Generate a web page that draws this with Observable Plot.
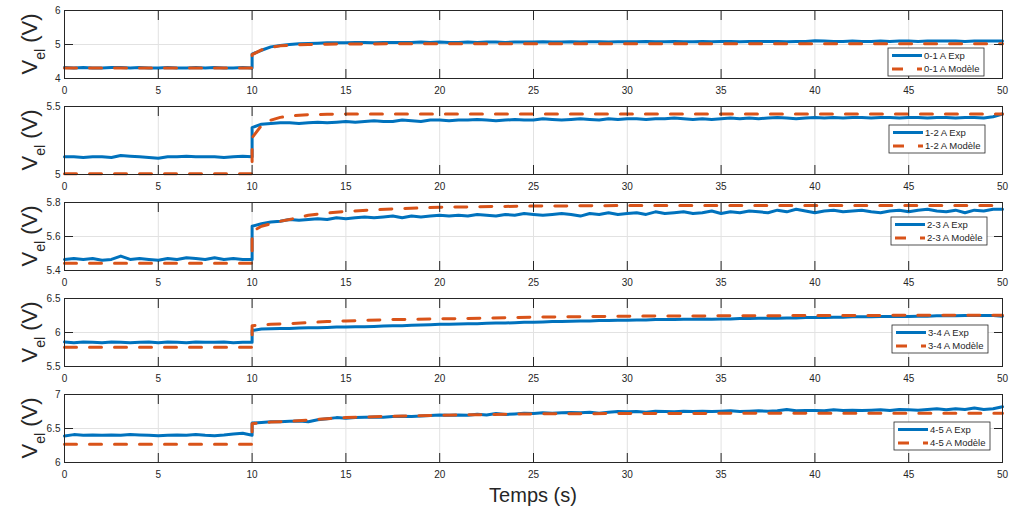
<!DOCTYPE html>
<html><head><meta charset="utf-8">
<script src="https://cdn.jsdelivr.net/npm/d3@7"></script>
<script src="https://cdn.jsdelivr.net/npm/@observablehq/plot@0.6"></script>
<style>
body{margin:0;background:#fff}
#chart{position:relative;width:1009px;height:514px;font-family:"Liberation Sans",Arial,Helvetica,sans-serif}
#chart svg{position:absolute;left:0;overflow:visible}
</style></head><body><div id="chart"></div>
<script>
// ---------- data ----------
const seriesNames = ["0-1", "1-2", "2-3", "3-4", "4-5"];
const xTicks = [0, 5, 10, 15, 20, 25, 30, 35, 40, 45, 50];
const yDomains = [[4, 6], [5, 5.5], [5.4, 5.8], [5.5, 6.5], [6, 7]];
const yTicks = [[4, 5, 6], [5, 5.5], [5.4, 5.6, 5.8], [5.5, 6, 6.5], [6, 6.5, 7]];
const sampleStep = 0.5;     // s, experimental sampling used here
const stepTime = 10;        // s

// experimental: t = 0..10 (before step), t = 10..50 (after step)
const exp01Before = [4.32,4.31,4.32,4.31,4.31,4.32,4.32,4.31,4.32,4.31,4.31,4.32,4.31,4.31,4.32,4.31,4.32,4.31,4.31,4.32,4.31];
const exp01After = [
 4.72,4.83,4.93,4.97,5.00,5.02,5.03,5.04,5.05,5.05,
 5.05,5.06,5.06,5.05,5.06,5.06,5.06,5.06,5.07,5.06,
 5.07,5.06,5.06,5.07,5.06,5.07,5.07,5.06,5.07,5.07,
 5.07,5.08,5.07,5.07,5.08,5.07,5.08,5.08,5.07,5.08,
 5.08,5.08,5.09,5.08,5.08,5.09,5.08,5.08,5.09,5.08,
 5.09,5.09,5.08,5.09,5.09,5.09,5.09,5.08,5.09,5.09,
 5.11,5.10,5.09,5.09,5.10,5.09,5.09,5.10,5.09,5.10,
 5.10,5.09,5.10,5.10,5.10,5.10,5.09,5.10,5.10,5.10,
 5.10];
const exp12Before = [5.13,5.13,5.125,5.13,5.13,5.125,5.14,5.135,5.13,5.125,5.12,5.13,5.13,5.135,5.13,5.13,5.13,5.125,5.13,5.135,5.13];
const exp12After = [
 5.345,5.37,5.375,5.38,5.38,5.375,5.38,5.385,5.38,5.385,
 5.39,5.385,5.39,5.395,5.39,5.39,5.40,5.395,5.39,5.40,
 5.40,5.395,5.40,5.40,5.405,5.40,5.395,5.40,5.405,5.40,
 5.40,5.41,5.405,5.40,5.405,5.41,5.405,5.40,5.41,5.405,
 5.41,5.41,5.405,5.41,5.41,5.415,5.41,5.405,5.41,5.405,
 5.41,5.415,5.41,5.415,5.41,5.415,5.42,5.415,5.41,5.415,
 5.42,5.415,5.42,5.415,5.42,5.42,5.415,5.42,5.42,5.415,
 5.42,5.42,5.415,5.42,5.42,5.415,5.42,5.42,5.415,5.425,
 5.445];
const exp23Before = [5.465,5.47,5.465,5.47,5.46,5.465,5.485,5.465,5.47,5.465,5.46,5.47,5.465,5.475,5.47,5.465,5.475,5.465,5.47,5.465,5.465];
const exp23After = [
 5.66,5.675,5.685,5.69,5.70,5.695,5.70,5.705,5.70,5.71,
 5.705,5.71,5.715,5.71,5.715,5.72,5.71,5.72,5.715,5.72,
 5.725,5.72,5.725,5.72,5.73,5.725,5.72,5.73,5.725,5.735,
 5.73,5.725,5.73,5.735,5.73,5.72,5.735,5.73,5.74,5.73,
 5.735,5.74,5.73,5.745,5.735,5.74,5.745,5.735,5.74,5.75,
 5.735,5.745,5.74,5.75,5.745,5.74,5.755,5.745,5.76,5.75,
 5.74,5.75,5.755,5.745,5.75,5.755,5.745,5.74,5.75,5.755,
 5.745,5.755,5.76,5.75,5.745,5.755,5.74,5.755,5.75,5.76,
 5.76];
const exp34Before = [5.86,5.85,5.86,5.855,5.85,5.86,5.855,5.85,5.855,5.86,5.85,5.86,5.855,5.85,5.86,5.855,5.855,5.86,5.85,5.855,5.855];
const exp34After = [
 6.03,6.05,6.055,6.06,6.06,6.065,6.07,6.07,6.075,6.08,
 6.08,6.085,6.085,6.09,6.095,6.10,6.10,6.105,6.11,6.115,
 6.12,6.12,6.125,6.13,6.13,6.135,6.14,6.14,6.145,6.15,
 6.15,6.155,6.16,6.16,6.165,6.17,6.17,6.175,6.175,6.18,
 6.18,6.185,6.185,6.19,6.19,6.19,6.195,6.195,6.20,6.195,
 6.20,6.20,6.205,6.205,6.21,6.21,6.21,6.215,6.215,6.22,
 6.22,6.22,6.225,6.225,6.23,6.23,6.23,6.235,6.235,6.24,
 6.235,6.24,6.24,6.245,6.245,6.245,6.25,6.25,6.25,6.25,
 6.24];
const exp45Before = [6.39,6.41,6.40,6.405,6.40,6.405,6.40,6.41,6.405,6.40,6.395,6.40,6.405,6.40,6.41,6.40,6.395,6.405,6.42,6.43,6.40];
const exp45After = [
 6.58,6.59,6.60,6.60,6.605,6.61,6.60,6.63,6.645,6.66,
 6.65,6.66,6.665,6.67,6.665,6.675,6.68,6.675,6.685,6.69,
 6.70,6.695,6.70,6.695,6.71,6.70,6.72,6.705,6.715,6.725,
 6.72,6.73,6.725,6.73,6.735,6.73,6.74,6.725,6.74,6.75,
 6.745,6.75,6.74,6.755,6.75,6.745,6.755,6.75,6.755,6.75,
 6.755,6.76,6.75,6.755,6.76,6.755,6.76,6.78,6.76,6.765,
 6.765,6.76,6.775,6.765,6.77,6.765,6.77,6.775,6.765,6.78,
 6.775,6.77,6.78,6.79,6.775,6.79,6.78,6.80,6.78,6.79,
 6.82];

// model
const modelTimes = [0, 10, 10, 10.5, 11, 11.5, 12, 13, 14, 15, 17.5, 20, 25, 30, 40, 50];
const model01 = [4.31,4.31,4.70,4.84,4.92,4.96,4.98,5.00,5.01,5.015,5.02,5.02,5.02,5.02,5.02,5.02];
const model12 = [5.005,5.005,5.27,5.36,5.40,5.42,5.43,5.44,5.443,5.445,5.445,5.445,5.445,5.445,5.445,5.445];
const model23 = [5.443,5.443,5.63,5.66,5.675,5.69,5.70,5.725,5.738,5.748,5.762,5.772,5.779,5.782,5.782,5.782];
const model34 = [5.784,5.784,6.10,6.11,6.12,6.125,6.13,6.145,6.16,6.17,6.19,6.20,6.225,6.24,6.25,6.255];
const model45 = [6.27,6.27,6.57,6.585,6.595,6.60,6.605,6.625,6.645,6.66,6.68,6.695,6.715,6.72,6.725,6.725];

const expBefore = [exp01Before, exp12Before, exp23Before, exp34Before, exp45Before];
const expAfter = [exp01After, exp12After, exp23After, exp34After, exp45After];
const models = [model01, model12, model23, model34, model45];

// ---------- layout ----------
const W = 1009, panelH = 96, mTop = 10, innerH = 68, tickLen = 9;
const legendBoxes = [[888, 38], [889, 19], [891, 15], [892, 27], [894, 28]]; // x, y offset from axes top
const font = '"Liberation Sans", Arial, Helvetica, sans-serif';
const ink = "#262626", blue = "#0072BD", orange = "#D95319", gridC = "#e2e2e2";

const chart = d3.select("#chart");

seriesNames.forEach((name, k) => {
  const last = k === seriesNames.length - 1;
  const H = last ? 514 - panelH * k : panelH;
  const exp = [
    ...expBefore[k].map((v, i) => ({t: i * sampleStep, v})),
    ...expAfter[k].map((v, i) => ({t: stepTime + i * sampleStep, v}))
  ];
  const model = models[k].map((v, i) => ({t: modelTimes[i], v}));
  const fmt = d => String(d);
  const none = () => "";
  const svg = Plot.plot({
    width: W, height: H,
    marginLeft: 64, marginRight: 7, marginTop: mTop, marginBottom: H - mTop - innerH,
    style: {fontFamily: font, fontSize: "10px", color: ink, background: "transparent"},
    x: {domain: [0, 50]},
    y: {domain: yDomains[k]},
    marks: [
      Plot.gridX(xTicks, {stroke: gridC, strokeOpacity: 1}),
      Plot.gridY(yTicks[k], {stroke: gridC, strokeOpacity: 1}),
      Plot.line(exp, {x: "t", y: "v", stroke: blue, strokeWidth: 3, strokeLinejoin: "round"}),
      Plot.line(model, {x: "t", y: "v", stroke: orange, strokeWidth: 3, strokeDasharray: "12,13"}),
      Plot.frame({stroke: ink, strokeWidth: 1}),
      Plot.axisX(xTicks, {anchor: "bottom", tickSize: 0, tickPadding: 8, label: null, tickFormat: fmt}),
      Plot.axisY(yTicks[k], {anchor: "left", tickSize: 0, tickPadding: 4, label: null, tickFormat: fmt}),
      // inward tick marks on all four sides
      Plot.axisX(xTicks, {anchor: "bottom", tickSize: tickLen, dy: -tickLen, tickFormat: none, label: null, stroke: ink}),
      Plot.axisX(xTicks, {anchor: "top", tickSize: tickLen, dy: tickLen, tickFormat: none, label: null, stroke: ink}),
      Plot.axisY(yTicks[k], {anchor: "left", tickSize: tickLen, dx: tickLen, tickFormat: none, label: null, stroke: ink}),
      Plot.axisY(yTicks[k], {anchor: "right", tickSize: tickLen, dx: -tickLen, tickFormat: none, label: null, stroke: ink})
    ]
  });
  svg.style.top = (panelH * k) + "px";
  chart.node().appendChild(svg);
  const s = d3.select(svg);

  // y-axis title: V_el (V)
  const yl = s.append("text")
    .attr("transform", `translate(37,${mTop + innerH / 2}) rotate(-90)`)
    .attr("text-anchor", "middle")
    .attr("fill", ink)
    .style("font-family", font).style("font-size", "22px");
  yl.append("tspan").text("V");
  yl.append("tspan").attr("dy", 8).style("font-size", "14px").text("el");
  yl.append("tspan").attr("dy", -8).text(" (V)");

  // legend
  const [lx, ly] = legendBoxes[k];
  const g = s.append("g").attr("transform", `translate(${lx},${mTop + ly})`);
  g.append("rect").attr("width", 96).attr("height", 28)
    .attr("fill", "#fff").attr("stroke", ink).attr("stroke-width", 0.8);
  const rows = [
    {label: `${name} A Exp`, color: blue, dash: null},
    {label: `${name} A Modèle`, color: orange, dash: "11,14"}
  ];
  rows.forEach((r, j) => {
    const yy = 7.5 + j * 13.5;
    g.append("line").attr("x1", 4).attr("x2", 34).attr("y1", yy).attr("y2", yy)
      .attr("stroke", r.color).attr("stroke-width", 3)
      .attr("stroke-dasharray", r.dash);
    g.append("text").attr("x", 36).attr("y", yy).attr("dy", "0.35em")
      .attr("text-anchor", "start")
      .attr("fill", ink).style("font-family", font).style("font-size", "9.5px")
      .text(r.label);
  });

  if (last) {
    s.append("text").attr("x", (64 + W - 7) / 2).attr("y", 118)
      .attr("text-anchor", "middle").attr("fill", ink)
      .style("font-family", font).style("font-size", "20px")
      .text("Temps (s)");
  }
});
</script>
</body></html>
